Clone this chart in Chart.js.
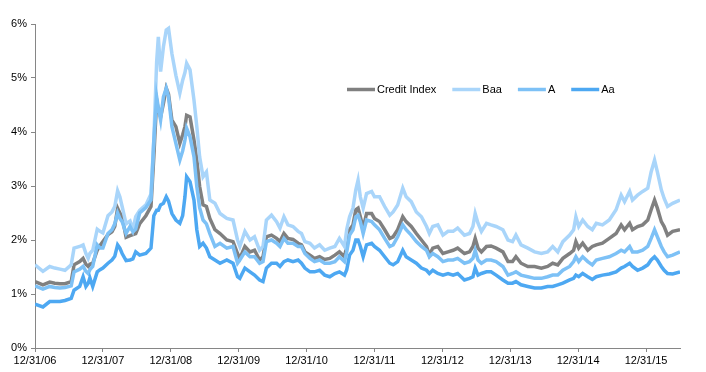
<!DOCTYPE html>
<html>
<head>
<meta charset="utf-8">
<script src="https://cdn.jsdelivr.net/npm/chart.js@4.4.1/dist/chart.umd.min.js"></script>
<style>
  html, body { margin: 0; padding: 0; background: #ffffff; }
  #wrap { width: 706px; height: 372px; }
</style>
</head>
<body>
<div id="wrap"><canvas id="c" width="706" height="372"></canvas></div>
<script>
// Months elapsed since 12/31/06
const months = [
  0.0, 1.4, 2.6, 3.5, 4.4, 5.3, 6.4, 6.9, 7.9, 8.5, 9.0, 9.4, 9.7, 10.2, 11.0, 11.5,
  12.0, 12.9, 13.6, 14.1, 14.6, 15.0, 15.4, 16.1, 16.8, 17.3, 17.8, 18.5, 19.6, 20.5,
  21.0, 21.5, 21.8, 22.2, 22.7, 23.2, 23.6, 24.2, 24.9, 25.6, 26.1, 26.5, 26.8, 27.4,
  28.1, 28.6, 29.1, 29.7, 30.3, 30.9, 31.8, 32.7, 33.9, 35.0, 35.8,
  36.2, 37.1, 38.0, 38.8, 39.7, 40.3, 40.9, 41.8, 42.7, 43.3, 44.0, 44.7, 45.6, 46.5,
  47.1, 47.7, 48.6, 49.4, 50.3, 51.2, 52.1, 53.0, 53.8, 54.7, 55.1, 55.6, 56.2, 56.7,
  57.1, 57.5, 58.0, 58.6, 59.5, 60.0, 60.9, 61.8, 62.7, 63.3, 64.1, 65.0, 65.6, 66.5,
  67.4, 68.3, 69.2, 69.7, 70.3, 71.2, 72.1, 73.0, 73.9, 74.7, 75.9, 76.8, 77.4, 77.8,
  78.3, 78.9, 79.8, 80.6, 81.5, 82.7, 83.6, 84.4, 85.0, 85.9, 87.1, 88.3, 89.5, 90.6,
  91.5, 92.4, 93.3, 94.5, 95.2, 95.6, 96.1, 96.8, 97.7, 98.5, 99.2, 100.3, 101.5,
  102.7, 103.6, 104.2, 105.1, 105.6, 106.5, 107.4, 108.3, 108.9, 109.5, 110.0, 110.7,
  111.2, 111.8, 112.7, 114.0
];

const creditIndex = [
  1.23, 1.17, 1.22, 1.20, 1.19, 1.19, 1.23, 1.54, 1.60, 1.66, 1.55, 1.51, 1.55, 1.57, 1.81, 1.90,
  1.97, 2.10, 2.15, 2.25, 2.59, 2.50, 2.43, 2.05, 2.08, 2.10, 2.12, 2.30, 2.45, 2.62,
  3.54, 4.59, 4.40, 4.28, 4.53, 4.81, 4.70, 4.22, 4.10, 3.79, 3.95, 4.10, 4.31, 4.28,
  3.85, 3.48, 2.99, 2.65, 2.62, 2.40, 2.19, 2.12, 2.00, 1.97, 1.75,
  1.66, 1.88, 1.78, 1.81, 1.63, 1.69, 2.06, 2.09, 2.03, 1.97, 2.12, 2.03, 2.01, 1.94,
  1.91, 1.78, 1.72, 1.66, 1.69, 1.64, 1.66, 1.72, 1.78, 1.69, 1.88, 2.19, 2.28, 2.56,
  2.59, 2.43, 2.22, 2.49, 2.49, 2.40, 2.34, 2.19, 2.03, 2.06, 2.19, 2.43, 2.34, 2.25,
  2.12, 2.00, 1.88, 1.72, 1.85, 1.88, 1.75, 1.78, 1.81, 1.85, 1.75, 1.78, 1.88, 2.03,
  1.85, 1.78, 1.88, 1.89, 1.85, 1.78, 1.60, 1.60, 1.69, 1.57, 1.51, 1.51, 1.48, 1.51,
  1.57, 1.54, 1.66, 1.75, 1.81, 1.97, 1.85, 1.94, 1.81, 1.88, 1.91, 1.94, 2.03,
  2.12, 2.28, 2.19, 2.31, 2.19, 2.25, 2.28, 2.37, 2.56, 2.74, 2.59, 2.34,
  2.25, 2.09, 2.16, 2.19
];

const baa = [
  1.54, 1.42, 1.51, 1.48, 1.46, 1.44, 1.54, 1.85, 1.88, 1.91, 1.75, 1.66, 1.75, 1.81, 2.20, 2.16,
  2.13, 2.45, 2.52, 2.62, 2.91, 2.80, 2.62, 2.30, 2.35, 2.19, 2.43, 2.55, 2.65, 2.85,
  3.85, 5.30, 5.76, 5.12, 5.58, 5.89, 5.92, 5.45, 5.05, 4.72, 4.96, 5.10, 5.27, 5.15,
  4.59, 4.10, 3.54, 3.17, 3.26, 2.74, 2.68, 2.49, 2.40, 2.37, 2.00,
  1.88, 2.16, 2.00, 2.06, 1.81, 1.88, 2.37, 2.46, 2.34, 2.22, 2.43, 2.28, 2.25, 2.16,
  2.12, 1.97, 1.94, 1.85, 1.91, 1.81, 1.85, 1.88, 2.03, 1.88, 2.20, 2.43, 2.59, 2.93,
  3.11, 2.80, 2.59, 2.86, 2.90, 2.80, 2.80, 2.62, 2.46, 2.52, 2.65, 2.96, 2.80, 2.71,
  2.52, 2.43, 2.25, 2.12, 2.25, 2.28, 2.09, 2.16, 2.16, 2.22, 2.09, 2.12, 2.25, 2.49,
  2.31, 2.16, 2.31, 2.28, 2.25, 2.19, 2.00, 1.97, 2.09, 1.91, 1.85, 1.78, 1.75, 1.78,
  1.88, 1.78, 1.97, 2.09, 2.19, 2.43, 2.25, 2.37, 2.25, 2.19, 2.31, 2.28, 2.37,
  2.56, 2.83, 2.71, 2.90, 2.74, 2.83, 2.90, 2.96, 3.26, 3.48, 3.26, 2.93,
  2.77, 2.62, 2.68, 2.74
];

const ratingA = [
  1.15, 1.09, 1.14, 1.12, 1.11, 1.12, 1.15, 1.41, 1.46, 1.51, 1.42, 1.38, 1.45, 1.51, 1.91, 1.85,
  1.85, 2.12, 2.19, 2.30, 2.50, 2.40, 2.34, 2.12, 2.25, 2.15, 2.20, 2.50, 2.60, 2.74,
  3.85, 4.65, 4.45, 4.22, 4.65, 4.81, 4.65, 4.10, 3.79, 3.48, 3.65, 3.85, 4.07, 3.91,
  3.54, 2.99, 2.60, 2.37, 2.30, 2.12, 1.88, 1.94, 1.85, 1.88, 1.57,
  1.63, 1.78, 1.69, 1.69, 1.57, 1.60, 1.97, 2.00, 1.94, 1.88, 2.03, 1.94, 1.94, 1.88,
  1.88, 1.75, 1.66, 1.60, 1.63, 1.57, 1.57, 1.60, 1.69, 1.60, 1.78, 2.09, 2.19, 2.43,
  2.46, 2.34, 2.12, 2.37, 2.34, 2.28, 2.19, 2.03, 1.88, 1.91, 2.06, 2.28, 2.19, 2.09,
  1.97, 1.88, 1.81, 1.69, 1.75, 1.69, 1.60, 1.63, 1.63, 1.66, 1.57, 1.60, 1.66, 1.81,
  1.63, 1.57, 1.63, 1.63, 1.60, 1.51, 1.35, 1.38, 1.41, 1.35, 1.32, 1.29, 1.29, 1.32,
  1.35, 1.35, 1.44, 1.51, 1.60, 1.69, 1.60, 1.69, 1.60, 1.54, 1.63, 1.66, 1.69,
  1.75, 1.81, 1.78, 1.88, 1.78, 1.78, 1.81, 1.88, 2.03, 2.19, 2.06, 1.88,
  1.78, 1.69, 1.72, 1.78
];

const ratingAa = [
  0.81, 0.76, 0.86, 0.86, 0.86, 0.88, 0.92, 1.07, 1.14, 1.32, 1.14, 1.20, 1.30, 1.14, 1.41, 1.45,
  1.48, 1.57, 1.63, 1.70, 1.91, 1.85, 1.75, 1.62, 1.63, 1.65, 1.78, 1.72, 1.75, 1.85,
  2.45, 2.55, 2.55, 2.65, 2.68, 2.80, 2.72, 2.49, 2.37, 2.31, 2.45, 2.80, 3.17, 3.08,
  2.74, 2.19, 1.88, 1.94, 1.85, 1.69, 1.63, 1.57, 1.63, 1.57, 1.32,
  1.29, 1.48, 1.41, 1.35, 1.26, 1.23, 1.48, 1.57, 1.57, 1.51, 1.60, 1.63, 1.60, 1.63,
  1.57, 1.48, 1.41, 1.41, 1.44, 1.35, 1.32, 1.38, 1.41, 1.35, 1.45, 1.72, 1.81, 2.00,
  2.00, 1.88, 1.69, 1.91, 1.94, 1.88, 1.81, 1.69, 1.57, 1.54, 1.60, 1.81, 1.69, 1.63,
  1.57, 1.48, 1.44, 1.38, 1.44, 1.38, 1.35, 1.38, 1.35, 1.38, 1.26, 1.29, 1.32, 1.48,
  1.35, 1.38, 1.41, 1.41, 1.35, 1.26, 1.20, 1.20, 1.23, 1.17, 1.14, 1.11, 1.11, 1.14,
  1.14, 1.17, 1.20, 1.26, 1.29, 1.35, 1.32, 1.38, 1.32, 1.27, 1.32, 1.35, 1.37,
  1.41, 1.48, 1.51, 1.57, 1.51, 1.44, 1.48, 1.54, 1.63, 1.69, 1.63, 1.51,
  1.44, 1.38, 1.37, 1.41
];

const seriesNames = ['Credit Index', 'Baa', 'A', 'Aa'];
const seriesColors = ['#808080', '#A9D5FA', '#7DC1F6', '#4DA8F2'];
const yTicks = [0, 1, 2, 3, 4, 5, 6];
const xTickMonths = [0, 12, 24, 36, 48, 60, 72, 84, 96, 108];
const xTickLabels = ['12/31/06', '12/31/07', '12/31/08', '12/31/09', '12/31/10',
                     '12/31/11', '12/31/12', '12/31/13', '12/31/14', '12/31/15'];

const FONT = 'Liberation Sans, Arial, sans-serif';
const AXIS_COLOR = '#868686';

function toPoints(vals) {
  return vals.map((v, i) => ({ x: months[i], y: v }));
}

const allSeries = [creditIndex, baa, ratingA, ratingAa];
const datasets = allSeries.map((vals, i) => ({
  label: seriesNames[i],
  data: toPoints(vals),
  borderColor: seriesColors[i],
  backgroundColor: seriesColors[i],
  borderWidth: 3.5,
  pointRadius: 0,
  tension: 0,
  fill: false,
  order: 4 - i
}));

const legendPlugin = {
  id: 'inlineLegend',
  afterDatasetsDraw(chart) {
    const ctx = chart.ctx;
    ctx.save();
    ctx.font = '11px ' + FONT;
    ctx.textBaseline = 'middle';
    ctx.textAlign = 'left';
    let x = 347;
    const y = 89.5;
    seriesNames.forEach((name, i) => {
      ctx.strokeStyle = seriesColors[i];
      ctx.lineWidth = 3.5;
      ctx.beginPath();
      ctx.moveTo(x, y);
      ctx.lineTo(x + 28, y);
      ctx.stroke();
      ctx.fillStyle = '#000000';
      ctx.fillText(name, x + 30, y);
      x += 30 + ctx.measureText(name).width + 16;
    });
    ctx.restore();
  }
};

new Chart(document.getElementById('c'), {
  type: 'line',
  data: { datasets },
  plugins: [legendPlugin],
  options: {
    responsive: false,
    animation: false,
    events: [],
    layout: { padding: { left: 0, right: 26, top: 24, bottom: 0 } },
    plugins: { legend: { display: false }, tooltip: { enabled: false } },
    scales: {
      x: {
        type: 'linear',
        min: 0,
        max: 114,
        afterFit: s => { s.height = 24; },
        afterBuildTicks: s => { s.ticks = xTickMonths.map(v => ({ value: v })); },
        ticks: {
          autoSkip: false,
          maxRotation: 0,
          padding: 2,
          color: '#000000',
          font: { family: FONT, size: 11 },
          callback: (v) => {
            const k = xTickMonths.indexOf(v);
            return k >= 0 ? xTickLabels[k] : '';
          }
        },
        grid: { display: true, drawOnChartArea: false, drawTicks: true, tickLength: 4, color: AXIS_COLOR },
        border: { display: true, color: AXIS_COLOR, width: 1 }
      },
      y: {
        type: 'linear',
        min: 0,
        max: 6,
        afterFit: s => { s.width = 35; },
        afterBuildTicks: s => { s.ticks = yTicks.map(v => ({ value: v })); },
        ticks: {
          padding: 4,
          color: '#000000',
          font: { family: FONT, size: 11 },
          callback: v => v + '%'
        },
        grid: { display: true, drawOnChartArea: false, drawTicks: true, tickLength: 4, color: AXIS_COLOR },
        border: { display: true, color: AXIS_COLOR, width: 1 }
      }
    }
  }
});
</script>
</body>
</html>
